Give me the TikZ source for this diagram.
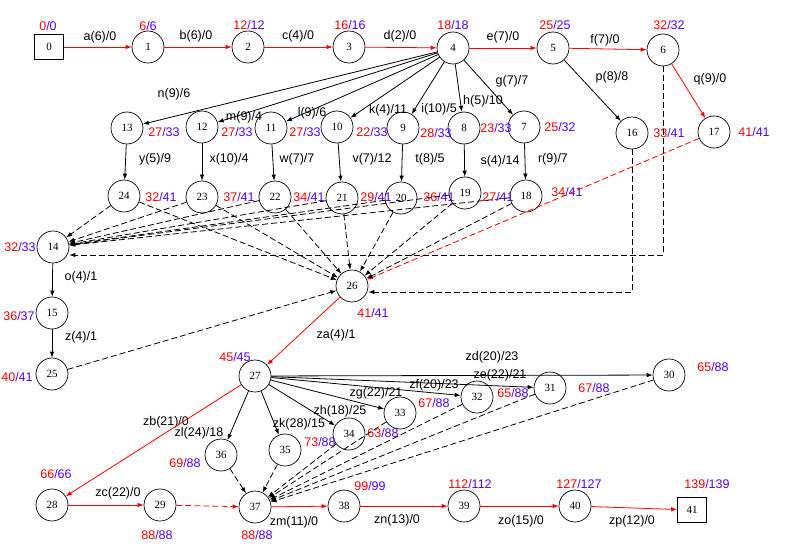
\documentclass[tikz,border=0pt]{standalone}
\usepackage{fontspec}
\setmainfont{Liberation Sans}
\newfontfamily\numfont{Liberation Serif}
\usetikzlibrary{arrows.meta}
\definecolor{lsblue}{RGB}{85,0,255}
\newcommand{\es}[2]{\textcolor{red}{#1}\textcolor{lsblue}{/#2}}

\begin{document}
\begin{tikzpicture}[x=1pt, y=-1pt, >={Latex[length=6pt,width=4.5pt]}, line width=0.8pt,
		ev/.style={circle, draw, line width=0.7pt, fill=white, inner sep=0pt, minimum size=32pt, font=\numfont\fontsize{11}{11}\selectfont},
		term/.style={rectangle, draw, line width=0.7pt, fill=white, inner sep=0pt, minimum width=29pt, minimum height=25pt, font=\numfont\fontsize{11}{11}\selectfont},
		tm/.style={inner sep=0pt, font=\fontsize{12.5}{13}\selectfont},
		lbl/.style={inner sep=0pt, font=\fontsize{12.5}{13}\selectfont},
		crit/.style={->, red},
		act/.style={->, black},
		dum/.style={->, dash pattern=on 6pt off 3pt}]
			\useasboundingbox (0,0) rectangle (789,559);
			% events
			\node[term] (n0) at (49, 47) {0};
			\node[ev] (n1) at (148, 47) {1};
			\node[ev] (n2) at (248, 47) {2};
			\node[ev] (n3) at (349, 47) {3};
			\node[ev] (n4) at (453, 48) {4};
			\node[ev] (n5) at (553, 48) {5};
			\node[ev] (n6) at (663, 50) {6};
			\node[ev] (n7) at (524, 127) {7};
			\node[ev] (n8) at (464, 128) {8};
			\node[ev] (n9) at (403, 128) {9};
			\node[ev] (n10) at (337, 127) {10};
			\node[ev] (n11) at (271, 128) {11};
			\node[ev] (n12) at (202, 127) {12};
			\node[ev] (n13) at (127, 128) {13};
			\node[ev] (n16) at (632, 133) {16};
			\node[ev] (n17) at (714, 132) {17};
			\node[ev] (n18) at (526, 196) {18};
			\node[ev] (n19) at (465, 193) {19};
			\node[ev] (n20) at (401, 198) {20};
			\node[ev] (n21) at (342, 198) {21};
			\node[ev] (n22) at (275, 197) {22};
			\node[ev] (n23) at (202, 197) {23};
			\node[ev] (n24) at (124, 196) {24};
			\node[ev] (n14) at (53, 247) {14};
			\node[ev] (n15) at (52, 313) {15};
			\node[ev] (n25) at (52, 374) {25};
			\node[ev] (n26) at (352, 286) {26};
			\node[ev] (n27) at (255, 376) {27};
			\node[ev] (n30) at (669, 375) {30};
			\node[ev] (n31) at (550, 388) {31};
			\node[ev] (n32) at (477, 397) {32};
			\node[ev] (n33) at (400, 413) {33};
			\node[ev] (n34) at (349, 434) {34};
			\node[ev] (n35) at (285, 450) {35};
			\node[ev] (n36) at (221, 455) {36};
			\node[ev] (n28) at (52, 505) {28};
			\node[ev] (n29) at (160, 505) {29};
			\node[ev] (n37) at (255, 507) {37};
			\node[ev] (n38) at (344, 506) {38};
			\node[ev] (n39) at (464, 506) {39};
			\node[ev] (n40) at (575, 506) {40};
			\node[term] (n41) at (692, 510) {41};
			% times
			\node[tm] (t0) at (48, 26) {\es{0}{0}};
			\node[tm] (t1) at (148, 26) {\es{6}{6}};
			\node[tm] (t2) at (249, 25) {\es{12}{12}};
			\node[tm] (t3) at (350, 25) {\es{16}{16}};
			\node[tm] (t4) at (453, 25) {\es{18}{18}};
			\node[tm] (t5) at (555, 25) {\es{25}{25}};
			\node[tm] (t6) at (669, 25) {\es{32}{32}};
			\node[tm] (t7) at (560, 127) {\es{25}{32}};
			\node[tm] (t8) at (496, 128) {\es{23}{33}};
			\node[tm] (t9) at (436, 133) {\es{28}{33}};
			\node[tm] (t10) at (372, 132) {\es{22}{33}};
			\node[tm] (t11) at (305, 132) {\es{27}{33}};
			\node[tm] (t12) at (237, 132) {\es{27}{33}};
			\node[tm] (t13) at (164, 132) {\es{27}{33}};
			\node[tm] (t16) at (669, 133) {\es{33}{41}};
			\node[tm] (t17) at (754, 132) {\es{41}{41}};
			\node[tm] (t18) at (567, 192) {\es{34}{41}};
			\node[tm] (t19) at (498, 197) {\es{27}{41}};
			\node[tm] (t20) at (439, 197) {\es{36}{41}};
			\node[tm] (t21) at (376, 197) {\es{29}{41}};
			\node[tm] (t22) at (309, 197) {\es{34}{41}};
			\node[tm] (t23) at (239, 197) {\es{37}{41}};
			\node[tm] (t24) at (161, 197) {\es{32}{41}};
			\node[tm] (t14) at (20, 247) {\es{32}{33}};
			\node[tm] (t15) at (19, 316) {\es{36}{37}};
			\node[tm] (t25) at (17, 377) {\es{40}{41}};
			\node[tm] (t26) at (373, 313) {\es{41}{41}};
			\node[tm] (t27) at (235, 357) {\es{45}{45}};
			\node[tm] (t30) at (713, 367) {\es{65}{88}};
			\node[tm] (t31) at (594, 388) {\es{67}{88}};
			\node[tm] (t32) at (513, 393) {\es{65}{88}};
			\node[tm] (t33) at (434, 403) {\es{67}{88}};
			\node[tm] (t34) at (383, 433) {\es{63}{88}};
			\node[tm] (t35) at (320, 442) {\es{73}{88}};
			\node[tm] (t36) at (185, 463) {\es{69}{88}};
			\node[tm] (t28) at (56, 474) {\es{66}{66}};
			\node[tm] (t29) at (157, 535) {\es{88}{88}};
			\node[tm] (t37) at (257, 535) {\es{88}{88}};
			\node[tm] (t38) at (370, 486) {\es{99}{99}};
			\node[tm] (t39) at (470, 484) {\es{112}{112}};
			\node[tm] (t40) at (579, 484) {\es{127}{127}};
			\node[tm] (t41) at (707, 484) {\es{139}{139}};
			% activity labels
			\node[lbl] (la) at (100, 37) {a(6)/0};
			\node[lbl] (lb) at (196, 36) {b(6)/0};
			\node[lbl] (lc) at (298, 36) {c(4)/0};
			\node[lbl] (ld) at (400, 36) {d(2)/0};
			\node[lbl] (le) at (503, 37) {e(7)/0};
			\node[lbl] (lf) at (605, 40) {f(7)/0};
			\node[lbl] (lg) at (512, 81) {g(7)/7};
			\node[lbl] (lp) at (612, 77) {p(8)/8};
			\node[lbl] (lq) at (710, 79) {q(9)/0};
			\node[lbl] (lh) at (483, 101) {h(5)/10};
			\node[lbl] (li) at (439, 109) {i(10)/5};
			\node[lbl] (lk) at (388, 110) {k(4)/11};
			\node[lbl] (ll) at (312, 113) {l(9)/6};
			\node[lbl] (lm) at (244, 117) {m(9)/4};
			\node[lbl] (ln) at (174, 94) {n(9)/6};
			\node[lbl] (ly) at (155, 159) {y(5)/9};
			\node[lbl] (lx) at (229, 159) {x(10)/4};
			\node[lbl] (lw) at (297, 159) {w(7)/7};
			\node[lbl] (lv) at (372, 159) {v(7)/12};
			\node[lbl] (lt) at (430, 159) {t(8)/5};
			\node[lbl] (ls) at (500, 161) {s(4)/14};
			\node[lbl] (lr) at (553, 159) {r(9)/7};
			\node[lbl] (lo) at (81, 277) {o(4)/1};
			\node[lbl] (lz) at (81, 337) {z(4)/1};
			\node[lbl] (lza) at (336, 335) {za(4)/1};
			\node[lbl] (lzb) at (166, 422) {zb(21)/0};
			\node[lbl] (lzl) at (199, 433) {zl(24)/18};
			\node[lbl] (lzk) at (299, 424) {zk(28)/15};
			\node[lbl] (lzh) at (340, 411) {zh(18)/25};
			\node[lbl] (lzg) at (376, 393) {zg(22)/21};
			\node[lbl] (lzf) at (434, 385) {zf(20)/23};
			\node[lbl] (lze) at (500, 375) {ze(22)/21};
			\node[lbl] (lzd) at (492, 357) {zd(20)/23};
			\node[lbl] (lzc) at (118, 493) {zc(22)/0};
			\node[lbl] (lzm) at (294, 522) {zm(11)/0};
			\node[lbl] (lzn) at (397, 520) {zn(13)/0};
			\node[lbl] (lzo) at (521, 521) {zo(15)/0};
			\node[lbl] (lzp) at (632, 521) {zp(12)/0};
			% critical path
			\draw[crit] (n0) -- (n1);
			\draw[crit] (n1) -- (n2);
			\draw[crit] (n2) -- (n3);
			\draw[crit] (n3) -- (n4);
			\draw[crit] (n4) -- (n5);
			\draw[crit] (n5) -- (n6);
			\draw[crit] (n6) -- (n17);
			\draw[crit] (n26) -- (n27);
			\draw[crit] (n27) -- (n28);
			\draw[crit] (n28) -- (n29);
			\draw[crit] (n37) -- (n38);
			\draw[crit] (n38) -- (n39);
			\draw[crit] (n39) -- (n40);
			\draw[crit] (n40) -- (n41);
			\draw[crit, dum] (n17) -- (n26);
			\draw[crit, dum] (n29) -- (n37);
			% other activities
			\foreach \t in {7, 8, 9, 10, 11, 12, 13}
				\draw[act] (n4) -- (n\t);
			\draw[act] (n5) -- (n16);
			\draw[act] (n7) -- (n18);
			\draw[act] (n8) -- (n19);
			\draw[act] (n9) -- (n20);
			\draw[act] (n10) -- (n21);
			\draw[act] (n11) -- (n22);
			\draw[act] (n12) -- (n23);
			\draw[act] (n13) -- (n24);
			\draw[act] (n14) -- (n15);
			\draw[act] (n15) -- (n25);
			\foreach \t in {30, 31, 32, 33, 34, 35, 36}
				\draw[act] (n27) -- (n\t);
			% dummies
			\foreach \s in {18, 19, 20, 21, 22, 23, 24} {
				\draw[dum] (n\s) -- (n14);
				\draw[dum] (n\s) -- (n26);
			}
			\draw[dum] (n6) |- ([yshift=-8pt]n14.east);
			\draw[dum] (n16) |- ([yshift=-6pt]n26.east);
			\draw[dum] (n25) -- (n26);
			\foreach \s in {30, 31, 32, 33, 34, 35, 36}
				\draw[dum] (n\s) -- (n37);
		\end{tikzpicture}
\end{document}
